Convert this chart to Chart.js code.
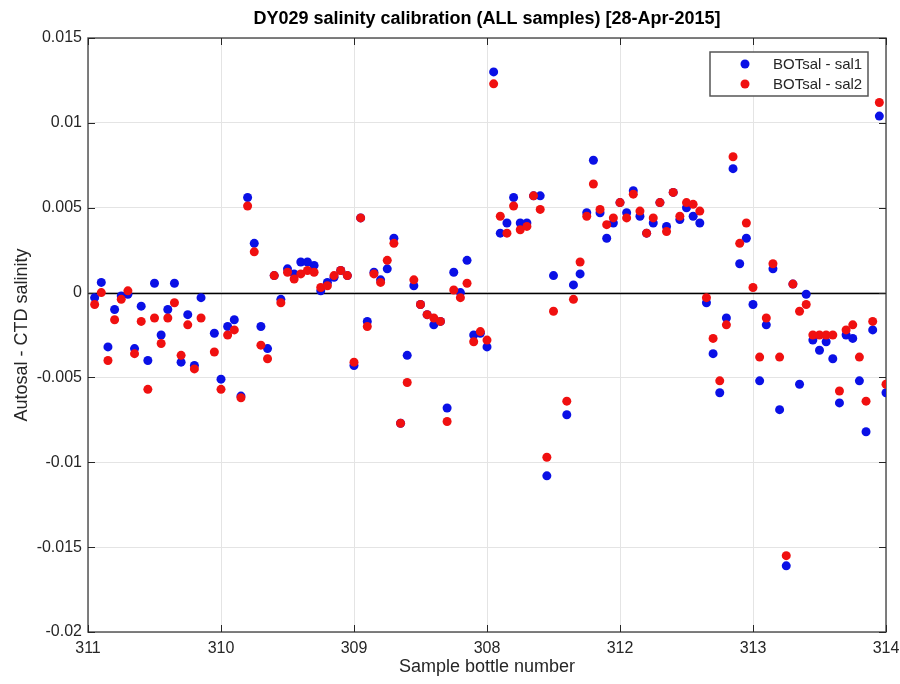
<!DOCTYPE html>
<html>
<head>
<meta charset="utf-8">
<script src="https://cdn.jsdelivr.net/npm/chart.js@4.4.1/dist/chart.umd.min.js"></script>
<style>
  html, body { margin: 0; padding: 0; background: #fff; }
  canvas { display: block; }
</style>
</head>
<body>
<canvas id="chart" width="900" height="684"></canvas>
<script>
const titleText = 'DY029 salinity calibration (ALL samples) [28-Apr-2015]';
const xAxisTitle = 'Sample bottle number';
const yAxisTitle = 'Autosal - CTD salinity';
const seriesNames = ['BOTsal - sal1', 'BOTsal - sal2'];

// x tick labels, one every 20 samples
const bottleLabels = ['311', '310', '309', '308', '312', '313', '314'];
const bottleStep = 20;

// Autosal - CTD salinity, by sample number (null = no sample)
const sal1Diff = [
  null, -0.0003, 0.0006, -0.0032, -0.0010, -0.0002, -0.0001, -0.0033, -0.0008, -0.0040,
  0.00055, -0.0025, -0.0010, 0.00055, -0.0041, -0.0013, -0.0043, -0.0003, null, -0.0024,
  -0.0051, -0.0020, -0.0016, -0.0061, 0.0056, 0.0029, -0.0020, -0.0033, 0.0010, -0.0004,
  0.0014, 0.0011, 0.0018, 0.0018, 0.0016, 0.0001, 0.0006, 0.0009, 0.0013, 0.0010,
  -0.0043, 0.0044, -0.0017, 0.0012, 0.00075, 0.0014, 0.0032, -0.0077, -0.0037, 0.0004,
  -0.0007, -0.0013, -0.0019, -0.0017, -0.0068, 0.0012, 0.0000, 0.0019, -0.0025, -0.0024,
  -0.0032, 0.0130, 0.0035, 0.0041, 0.0056, 0.0041, 0.0041, 0.0057, 0.0057, -0.0108,
  0.0010, null, -0.0072, 0.00045, 0.0011, 0.0047, 0.0078, 0.0047, 0.0032, 0.0041,
  0.0053, 0.0047, 0.0060, 0.0045, 0.0035, 0.0041, 0.0053, 0.0039, 0.0059, 0.0043,
  0.0050, 0.0045, 0.0041, -0.0006, -0.0036, -0.0059, -0.0015, 0.0073, 0.0017, 0.0032,
  -0.0007, -0.0052, -0.0019, 0.0014, -0.0069, -0.0161, 0.0005, -0.0054, -0.0001, -0.0028,
  -0.0034, -0.0029, -0.0039, -0.0065, -0.0025, -0.0027, -0.0052, -0.0082, -0.0022, 0.0104,
  -0.0059
];
const sal2Diff = [
  null, -0.0007, 0.0000, -0.0040, -0.0016, -0.0004, 0.0001, -0.0036, -0.0017, -0.0057,
  -0.0015, -0.0030, -0.0015, -0.0006, -0.0037, -0.0019, -0.0045, -0.0015, null, -0.0035,
  -0.0057, -0.0025, -0.0022, -0.0062, 0.0051, 0.0024, -0.0031, -0.0039, 0.0010, -0.0006,
  0.0012, 0.0008, 0.0011, 0.0013, 0.0012, 0.0003, 0.0004, 0.0010, 0.0013, 0.0010,
  -0.0041, 0.0044, -0.0020, 0.0011, 0.0006, 0.0019, 0.0029, -0.0077, -0.0053, 0.00075,
  -0.0007, -0.0013, -0.0015, -0.0017, -0.0076, 0.00015, -0.0003, 0.00055, -0.0029, -0.0023,
  -0.0028, 0.0123, 0.0045, 0.0035, 0.0051, 0.0037, 0.0039, 0.0057, 0.0049, -0.0097,
  -0.0011, null, -0.0064, -0.0004, 0.0018, 0.0045, 0.0064, 0.0049, 0.0040, 0.0044,
  0.0053, 0.0044, 0.0058, 0.0048, 0.0035, 0.0044, 0.0053, 0.0036, 0.0059, 0.0045,
  0.0053, 0.0052, 0.0048, -0.0003, -0.0027, -0.0052, -0.0019, 0.0080, 0.0029, 0.0041,
  0.0003, -0.0038, -0.0015, 0.0017, -0.0038, -0.0155, 0.0005, -0.0011, -0.0007, -0.0025,
  -0.0025, -0.0025, -0.0025, -0.0058, -0.0022, -0.0019, -0.0038, -0.0064, -0.0017, 0.0112,
  -0.0054
];

const FONT = "'Liberation Sans', Arial, sans-serif";
const TEXT = '#262626';

function toPoints(values) {
  return values
    .map((v, i) => ({ x: i, y: v }))
    .filter(p => p.y !== null);
}

const matlabFrame = {
  id: 'matlabFrame',
  beforeDatasetsDraw(chart) {
    const { ctx, chartArea: a, scales: { x, y } } = chart;
    ctx.save();

    // zero line
    const y0 = Math.round(y.getPixelForValue(0)) + 0.5;
    ctx.strokeStyle = '#000';
    ctx.lineWidth = 1.5;
    ctx.beginPath();
    ctx.moveTo(a.left, y0);
    ctx.lineTo(a.right, y0);
    ctx.stroke();

    // axes box
    ctx.strokeStyle = '#555';
    ctx.lineWidth = 1.5;
    ctx.strokeRect(a.left, a.top, a.right - a.left, a.bottom - a.top);

    // inward ticks on all four sides
    ctx.strokeStyle = '#262626';
    ctx.lineWidth = 1;
    const len = 7;
    ctx.beginPath();
    x.ticks.forEach(t => {
      const px = Math.round(x.getPixelForValue(t.value)) + 0.5;
      ctx.moveTo(px, a.bottom); ctx.lineTo(px, a.bottom - len);
      ctx.moveTo(px, a.top); ctx.lineTo(px, a.top + len);
    });
    y.ticks.forEach(t => {
      const py = Math.round(y.getPixelForValue(t.value)) + 0.5;
      ctx.moveTo(a.left, py); ctx.lineTo(a.left + len, py);
      ctx.moveTo(a.right, py); ctx.lineTo(a.right - len, py);
    });
    ctx.stroke();
    ctx.restore();
  },
  afterDraw(chart) {
    const { ctx, chartArea: a } = chart;
    const cx = (a.left + a.right) / 2;
    const cy = (a.top + a.bottom) / 2;
    ctx.save();
    ctx.textAlign = 'center';
    ctx.textBaseline = 'middle';

    ctx.fillStyle = '#000';
    ctx.font = 'bold 18px ' + FONT;
    ctx.fillText(titleText, cx, 19);

    ctx.fillStyle = TEXT;
    ctx.font = '18px ' + FONT;
    ctx.fillText(xAxisTitle, cx, 667);

    ctx.save();
    ctx.translate(22, cy);
    ctx.rotate(-Math.PI / 2);
    ctx.fillText(yAxisTitle, 0, 0);
    ctx.restore();

    // legend box, top right inside the axes
    const bw = 158, bh = 44;
    const bx = a.right - 18 - bw;
    const by = a.top + 14;
    ctx.fillStyle = '#fff';
    ctx.fillRect(bx, by, bw, bh);
    ctx.strokeStyle = '#555';
    ctx.lineWidth = 1.5;
    ctx.strokeRect(bx, by, bw, bh);
    ctx.font = '15px ' + FONT;
    ctx.textAlign = 'left';
    chart.data.datasets.forEach((ds, i) => {
      const ry = by + 12 + i * 20;
      ctx.fillStyle = ds.backgroundColor;
      ctx.beginPath();
      ctx.arc(bx + 35, ry, 4.5, 0, Math.PI * 2);
      ctx.fill();
      ctx.fillStyle = TEXT;
      ctx.fillText(ds.label, bx + 63, ry + 1);
    });
    ctx.restore();
  }
};

new Chart(document.getElementById('chart'), {
  type: 'scatter',
  data: {
    datasets: [
      {
        label: seriesNames[0],
        data: toPoints(sal1Diff),
        backgroundColor: '#0a10e6',
        borderWidth: 0,
        pointRadius: 4.5,
        order: 1
      },
      {
        label: seriesNames[1],
        data: toPoints(sal2Diff),
        backgroundColor: '#f01010',
        borderWidth: 0,
        pointRadius: 4.5,
        order: 0
      }
    ]
  },
  options: {
    responsive: false,
    animation: false,
    devicePixelRatio: 1,
    layout: { padding: { top: 38, right: 14, left: 0, bottom: 0 } },
    plugins: {
      legend: { display: false },
      tooltip: { enabled: false },
      title: { display: false }
    },
    scales: {
      x: {
        type: 'linear',
        min: 0,
        max: (bottleLabels.length - 1) * bottleStep,
        afterFit: s => { s.height = 52; s.paddingLeft = 0; s.paddingRight = 0; },
        border: { display: false },
        grid: { color: '#e4e4e4', drawTicks: false },
        ticks: {
          stepSize: bottleStep,
          padding: 7,
          color: TEXT,
          font: { family: FONT, size: 16 },
          maxRotation: 0,
          callback: v => bottleLabels[Math.round(v / bottleStep)]
        }
      },
      y: {
        min: -0.02,
        max: 0.015,
        afterFit: s => { s.width = 88; s.paddingTop = 0; s.paddingBottom = 0; },
        border: { display: false },
        grid: { color: '#e4e4e4', drawTicks: false },
        ticks: {
          stepSize: 0.005,
          padding: 6,
          color: TEXT,
          font: { family: FONT, size: 16 },
          callback: v => String(Number(v.toFixed(3)))
        }
      }
    }
  },
  plugins: [matlabFrame]
});
</script>
</body>
</html>
